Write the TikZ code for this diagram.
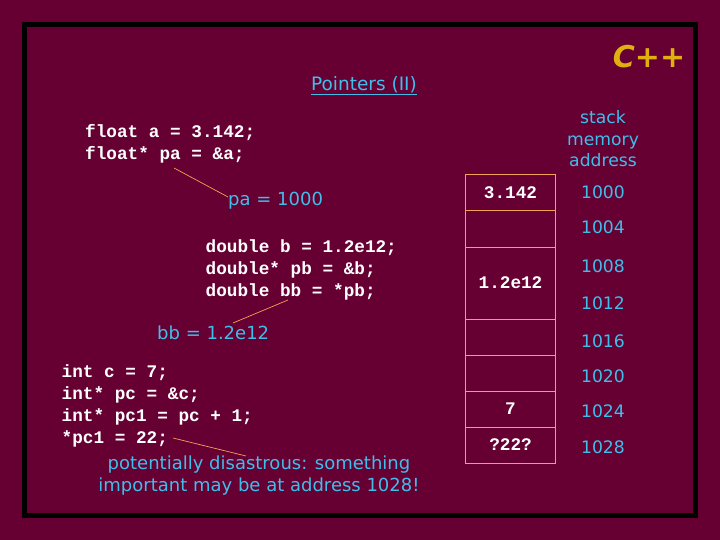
\documentclass[tikz,border=0pt]{standalone}
\usepackage{fontspec}
\setmainfont{DejaVu Sans}
\newfontfamily\codefont{Liberation Mono}[BoldFont=* Bold]
\newfontfamily\lblfont{DejaVu Sans}
\definecolor{bgc}{HTML}{660033}
\definecolor{cyantxt}{HTML}{40BEEA}
\definecolor{celledge}{HTML}{F2A455}
\definecolor{goldc}{HTML}{E0B010}
\tikzset{
  code/.style={font={\codefont\bfseries\fontsize{17.7}{22}\selectfont}, text=white, align=left, inner sep=0pt, anchor=west},
  lbl/.style={font={\lblfont\fontsize{18}{22}\selectfont}, text=cyantxt, inner sep=0pt},
  addr/.style={font={\lblfont\fontsize{17.2}{21.5}\selectfont}, text=cyantxt, inner sep=0pt},
  cell/.style={draw=celledge, line width=1pt, minimum width=90pt, minimum height=36pt, inner sep=0pt, font={\codefont\bfseries\fontsize{17.7}{20}\selectfont}, text=white},
  link/.style={draw=celledge, line width=0.7pt}
}
\begin{document}
\begin{tikzpicture}[x=1pt,y=-1pt]
\fill[bgc] (0,0) rectangle (720,540);
\useasboundingbox (0,0) rectangle (720,540);
\draw[line width=5pt, black] (24.5,24.5) rectangle (695.5,515.5);

% title and logo
\node[font={\lblfont\fontsize{18.5}{20}\selectfont}, text=cyantxt, inner sep=0pt] (title) at (364,86) {\underline{Pointers (II)}};
\node[font={\lblfont\bfseries\itshape\fontsize{30}{30}\selectfont}, text=goldc, inner sep=0pt] (logo) at (649,57) {C++};

% memory header
\node[addr, align=center] (hdr) at (603,139) {stack\\memory\\address};

% memory cells
\node[cell, anchor=north west] (c1) at (465,174.5) {3.142};
\node[cell, anchor=north west] (c2) at (465,210.5) {};
\node[cell, anchor=north west, minimum height=72pt] (c3) at (465,246.5) {1.2e12};
\node[cell, anchor=north west] (c4) at (465,318.5) {};
\node[cell, anchor=north west] (c5) at (465,354.5) {};
\node[cell, anchor=north west] (c6) at (465,390.5) {7};
\node[cell, anchor=north west] (c7) at (465,426.5) {?22?};

% addresses
\node[addr] (a1000) at (603,192) {1000};
\node[addr] (a1004) at (603,227) {1004};
\node[addr] (a1008) at (603,266) {1008};
\node[addr] (a1012) at (603,303) {1012};
\node[addr] (a1016) at (603,341) {1016};
\node[addr] (a1020) at (603,376) {1020};
\node[addr] (a1024) at (603,411) {1024};
\node[addr] (a1028) at (603,447) {1028};

% code
\node[code] (code1) at (85,144) {float a = 3.142;\\float* pa = \&a;};
\node[lbl, anchor=west] (pa) at (228,201) {pa = 1000};
\node[code] (code2) at (205.5,270) {double b = 1.2e12;\\double* pb = \&b;\\double bb = *pb;};
\node[lbl, anchor=west] (bb) at (157,333) {bb = 1.2e12};
\node[code] (code3) at (61.5,406) {int c = 7;\\int* pc = \&c;\\int* pc1 = pc + 1;\\*pc1 = 22;};
\node[lbl, align=center] (warn) at (259,476) {potentially disastrous: something\\important may be at address 1028!};

% connectors
\coordinate (paSrc) at (174,168);
\coordinate (paDst) at (228,197);
\coordinate (bbSrc) at (288,300);
\coordinate (bbDst) at (233,323);
\coordinate (pcSrc) at (173,438);
\coordinate (pcDst) at (246,456);
\draw[link] (paSrc) -- (paDst);
\draw[link] (bbSrc) -- (bbDst);
\draw[link] (pcSrc) -- (pcDst);
\end{tikzpicture}
\end{document}
